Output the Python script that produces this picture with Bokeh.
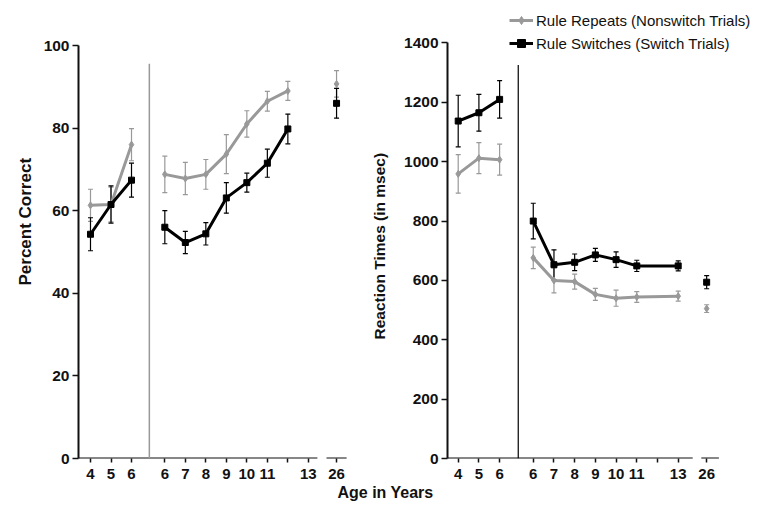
from bokeh.plotting import figure
from bokeh.layouts import row, column
from bokeh.models import (ColumnDataSource, Whisker, TeeHead, Range1d, FixedTicker,
                          Label, Legend, LegendItem, Title)
from bokeh.embed import file_html
from bokeh.resources import INLINE

# ---------------- data ----------------
young_ages = [4, 5, 6]
school_ages_acc = [6, 7, 8, 9, 10, 11, 12]
school_ages_rt = [6, 7, 8, 9, 10, 11, 13]
adult_ages = [26]

# Percent correct
acc_rep_young = [61.3, 61.5, 76.0]
acc_rep_young_err = [3.9, 4.2, 3.9]
acc_sw_young = [54.3, 61.5, 67.4]
acc_sw_young_err = [4.0, 4.5, 4.1]
acc_rep_school = [68.8, 67.8, 68.8, 73.7, 81.0, 86.5, 89.0]
acc_rep_school_err = [4.4, 3.9, 3.6, 4.7, 3.2, 2.4, 2.3]
acc_sw_school = [56.0, 52.3, 54.4, 63.1, 66.8, 71.5, 79.8]
acc_sw_school_err = [4.0, 2.7, 2.7, 3.7, 2.3, 3.4, 3.6]
acc_rep_adult = [90.7]
acc_rep_adult_err = [3.2]
acc_sw_adult = [86.0]
acc_sw_adult_err = [3.6]

# Reaction times (msec)
rt_rep_young = [959, 1012, 1007]
rt_rep_young_err = [65, 52, 52]
rt_sw_young = [1137, 1165, 1210]
rt_sw_young_err = [87, 62, 63]
rt_rep_school = [676, 600, 596, 553, 540, 544, 547]
rt_rep_school_err = [36, 42, 25, 20, 27, 18, 17]
rt_sw_school = [800, 653, 661, 686, 670, 649, 649]
rt_sw_school_err = [60, 50, 28, 22, 26, 19, 17]
rt_rep_adult = [505]
rt_rep_adult_err = [13]
rt_sw_adult = [594]
rt_sw_adult_err = [22]

acc_ticks = [0, 20, 40, 60, 80, 100]
rt_ticks = [0, 200, 400, 600, 800, 1000, 1200, 1400]

tick_ages = [4, 5, 6, 6, 7, 8, 9, 10, 11, 12, 13, 26]
tick_labels = ["4", "5", "6", "6", "7", "8", "9", "10", "11", "", "13", "26"]
tick_groups = ["y", "y", "y", "s", "s", "s", "s", "s", "s", "s", "s", "a"]

legend_labels = ["Rule Repeats (Nonswitch Trials)", "Rule Switches (Switch Trials)"]

# ---------------- layout helpers ----------------
SCHOOL_OFFSET = 3.625
ADULT_POS = 12.0
GRAY = "#999999"
BLACK = "#000000"
INK = "#111111"
FONT = "Liberation Sans"


def xpos(age, group):
    if group == "y":
        return float(age - 4)
    if group == "s":
        return SCHOOL_OFFSET + (age - 6)
    return ADULT_POS


tick_pos = [xpos(a, g) for a, g in zip(tick_ages, tick_groups)]


def add_series(p, ages, group, vals, errs, color, marker, msize, connect=True):
    xs = [xpos(a, group) for a in ages]
    src = ColumnDataSource(dict(x=xs, y=vals,
                                upper=[v + e for v, e in zip(vals, errs)],
                                lower=[v - e for v, e in zip(vals, errs)]))
    line_r = None
    if connect:
        line_r = p.line("x", "y", source=src, line_color=color, line_width=3)
    w = Whisker(source=src, base="x", upper="upper", lower="lower",
                line_color=color, line_width=1.2,
                upper_head=TeeHead(size=5, line_color=color, line_width=1.2),
                lower_head=TeeHead(size=5, line_color=color, line_width=1.2))
    p.add_layout(w)
    mk = p.scatter("x", "y", source=src, marker=marker, size=msize,
                   fill_color=color, line_color=color)
    return line_r, mk


def make_panel(width, height, bl, br, bb, xr, yr, yticks):
    p = figure(width=width, height=height, x_range=Range1d(*xr), y_range=Range1d(*yr),
               toolbar_location=None, output_backend="svg",
               min_border_left=bl, min_border_right=br, min_border_top=0,
               min_border_bottom=bb)
    p.outline_line_color = None
    p.grid.visible = False
    p.background_fill_color = "white"
    p.border_fill_color = "white"
    # y axis (line limited to the tick span)
    p.yaxis.ticker = FixedTicker(ticks=yticks)
    p.yaxis.bounds = (yticks[0], yticks[-1])
    p.yaxis.axis_line_width = 2
    p.yaxis.axis_line_color = INK
    p.yaxis.major_tick_out = 6
    p.yaxis.major_tick_in = 0
    p.yaxis.major_tick_line_width = 1.5
    p.yaxis.major_tick_line_color = INK
    p.yaxis.minor_tick_line_color = None
    p.yaxis.major_label_standoff = 3
    p.yaxis.major_label_text_font = FONT
    p.yaxis.major_label_text_font_style = "bold"
    p.yaxis.major_label_text_font_size = "15.5px"
    p.yaxis.major_label_text_color = INK
    # x axis
    p.xaxis.ticker = FixedTicker(ticks=tick_pos)
    p.xaxis.major_label_overrides = {pos: lab for pos, lab in zip(tick_pos, tick_labels)}
    p.xaxis.axis_line_color = None
    p.xaxis.major_tick_out = 4
    p.xaxis.major_tick_in = 0
    p.xaxis.major_tick_line_width = 1.5
    p.xaxis.major_tick_line_color = INK
    p.xaxis.minor_tick_line_color = None
    p.xaxis.major_label_standoff = 6
    p.xaxis.major_label_text_font = FONT
    p.xaxis.major_label_text_font_style = "bold"
    p.xaxis.major_label_text_font_size = "15px"
    p.xaxis.major_label_text_color = INK
    return p


def side_title(p, text, offset, standoff, size):
    t = Title(text=text, align="left", offset=offset, standoff=standoff,
              vertical_align="middle", text_font=FONT, text_font_style="bold",
              text_font_size=size, text_color=INK)
    p.add_layout(t, "left")


# ---------------- left panel: percent correct ----------------
# frame spans canvas top to the y=0 line; the axis itself is bounded to 0..100
p1 = make_panel(356, 485, 78, 6, 27, (-0.585, 12.68), (0, 110.9), acc_ticks)
x13 = xpos(13, "s")
p1.segment(x0=[-0.585, ADULT_POS - 0.49], y0=[0, 0], x1=[x13 + 0.44, ADULT_POS + 0.49],
           y1=[0, 0], line_color=INK, line_width=2)
p1.segment(x0=[2.87], y0=[0], x1=[2.87], y1=[95.6], line_color=GRAY, line_width=1.5)

add_series(p1, young_ages, "y", acc_rep_young, acc_rep_young_err, GRAY, "diamond", 7)
add_series(p1, school_ages_acc, "s", acc_rep_school, acc_rep_school_err, GRAY, "diamond", 7)
add_series(p1, adult_ages, "a", acc_rep_adult, acc_rep_adult_err, GRAY, "diamond", 7, connect=False)
add_series(p1, young_ages, "y", acc_sw_young, acc_sw_young_err, BLACK, "square", 6)
add_series(p1, school_ages_acc, "s", acc_sw_school, acc_sw_school_err, BLACK, "square", 6)
add_series(p1, adult_ages, "a", acc_sw_adult, acc_sw_adult_err, BLACK, "square", 6, connect=False)

side_title(p1, "Percent Correct", 173, 9, "17px")

# ---------------- right panel: reaction times ----------------
p2 = make_panel(414, 485, 91, 4, 27, (-0.517, 14.89), (0, 1543.2), rt_ticks)
p2.segment(x0=[-0.517, ADULT_POS - 0.26], y0=[0, 0], x1=[x13 + 0.7, ADULT_POS + 0.59],
           y1=[0, 0], line_color=INK, line_width=2)
p2.segment(x0=[2.9], y0=[0], x1=[2.9], y1=[1326], line_color=BLACK, line_width=1.2)

rl, rm = add_series(p2, young_ages, "y", rt_rep_young, rt_rep_young_err, GRAY, "diamond", 7)
add_series(p2, school_ages_rt, "s", rt_rep_school, rt_rep_school_err, GRAY, "diamond", 7)
add_series(p2, adult_ages, "a", rt_rep_adult, rt_rep_adult_err, GRAY, "diamond", 7, connect=False)
sl, sm = add_series(p2, young_ages, "y", rt_sw_young, rt_sw_young_err, BLACK, "square", 6)
add_series(p2, school_ages_rt, "s", rt_sw_school, rt_sw_school_err, BLACK, "square", 6)
add_series(p2, adult_ages, "a", rt_sw_adult, rt_sw_adult_err, BLACK, "square", 6, connect=False)

side_title(p2, "Reaction Times (in msec)", 119, 25, "15.5px")

legend = Legend(items=[LegendItem(label=legend_labels[0], renderers=[rl, rm]),
                       LegendItem(label=legend_labels[1], renderers=[sl, sm])],
                location=(62, 405))
legend.padding = 0
legend.margin = 0
legend.spacing = 3
legend.glyph_width = 24
legend.glyph_height = 20
legend.label_height = 20
legend.label_standoff = 3
legend.border_line_color = None
legend.background_fill_alpha = 0
legend.label_text_font = FONT
legend.label_text_font_size = "15px"
legend.label_text_color = INK
p2.add_layout(legend)

# ---------------- shared x-axis title ----------------
p3 = figure(width=770, height=20, x_range=Range1d(0, 770), y_range=Range1d(0, 20),
            toolbar_location=None, output_backend="svg", min_border=0,
            x_axis_location=None, y_axis_location=None)
p3.outline_line_color = None
p3.grid.visible = False
p3.add_layout(Label(x=385, y=13, text="Age in Years", text_align="center",
                    text_baseline="middle", text_font=FONT, text_font_style="bold",
                    text_font_size="16px", text_color=INK))

layout = column(row(p1, p2), p3)
open("out.html", "w").write(file_html(layout, INLINE))
